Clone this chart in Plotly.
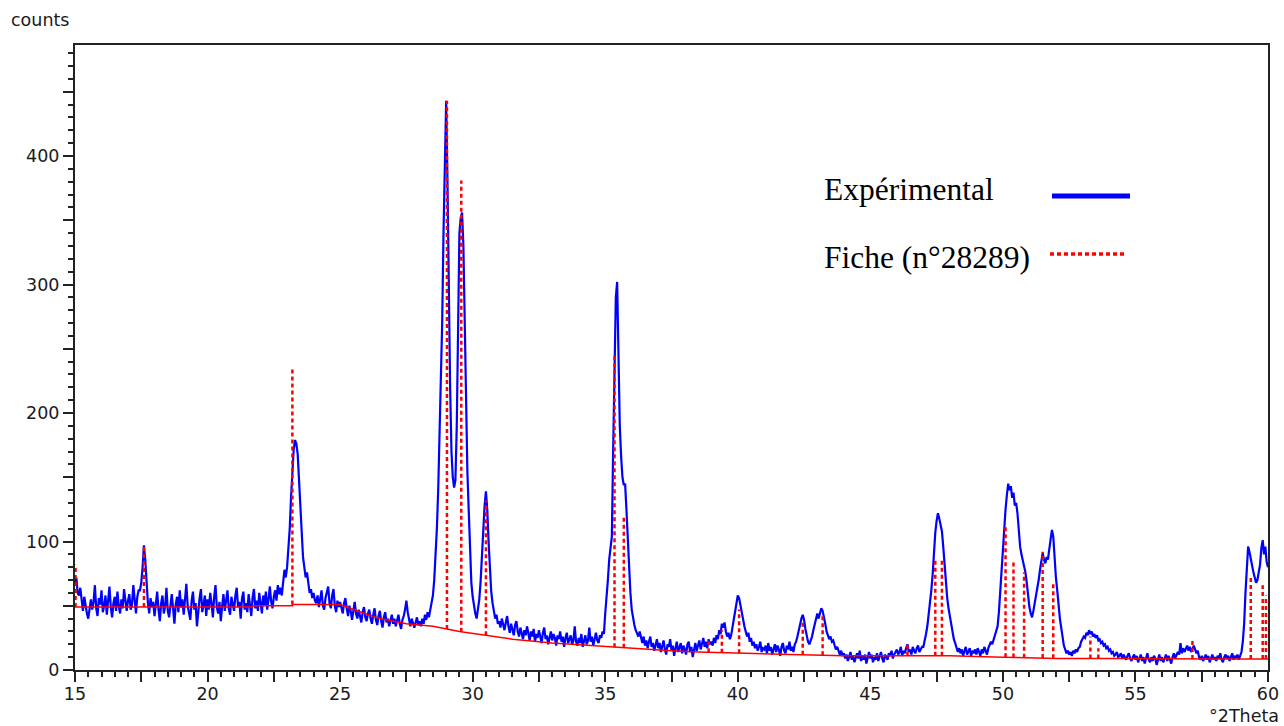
import numpy as np
import plotly.graph_objects as go

# ---------------- data ----------------
two_theta_start = 15.0
two_theta_step = 0.05

counts_15_20 = [
    68, 72, 60, 58, 64, 52, 46, 57, 50, 44, 40, 49, 55, 47, 53, 66, 48, 42, 56, 51,
    62, 45, 50, 58, 43, 54, 65, 49, 41, 52, 57, 46, 61, 50, 44, 55, 48, 63, 52, 46,
    54, 59, 47, 51, 66, 53, 44, 57, 62, 62, 68, 80, 97, 86, 65, 52, 44, 56, 49, 53,
    42, 55, 61, 47, 38, 52, 58, 44, 50, 64, 46, 41, 53, 59, 48, 36, 51, 57, 45, 62,
    49, 55, 43, 58, 67, 50, 44, 39, 54, 61, 47, 52, 34, 48, 56, 63, 45, 51, 58, 42,
]
counts_20_25 = [
    55, 47, 60, 52, 41, 57, 66, 49, 44, 53, 38, 50, 59, 46, 55, 62, 48, 43, 57, 51,
    46, 58, 64, 49, 53, 40, 56, 61, 47, 52, 45, 59, 50, 42, 57, 63, 48, 54, 46, 60,
    52, 44, 58, 50, 61, 47, 55, 65, 53, 48, 57, 62, 54, 66, 59, 64, 58, 70, 78, 72,
    80, 95, 110, 135, 158, 172, 179, 176, 168, 150, 128, 104, 88, 80, 72, 76, 66, 60, 63, 56,
    60, 54, 52, 58, 49, 55, 62, 50, 47, 56, 60, 65, 52, 48, 58, 63, 50, 45, 54, 49,
]
counts_25_30 = [
    53, 47, 44, 52, 56, 48, 42, 50, 46, 39, 48, 53, 44, 40, 47, 42, 37, 45, 49, 41,
    38, 44, 47, 40, 36, 43, 48, 39, 35, 42, 46, 38, 33, 41, 45, 37, 40, 34, 39, 43,
    36, 40, 34, 38, 43, 36, 32, 39, 42, 47, 54, 45, 38, 34, 40, 36, 33, 37, 41, 35,
    38, 34, 40, 36, 43, 39, 45, 41, 48, 52, 58, 70, 88, 110, 140, 180, 225, 270, 340, 400,
    443, 380, 290, 220, 170, 150, 142, 148, 190, 270, 340, 352, 356, 330, 260, 200, 155, 125, 88, 68,
]
counts_30_35 = [
    57, 50, 44, 40, 46, 55, 69, 92, 114, 128, 139, 125, 100, 78, 61, 52, 45, 40, 43, 36,
    38, 33, 40, 35, 31, 37, 42, 34, 29, 36, 32, 27, 35, 38, 30, 26, 33, 29, 24, 31,
    27, 34, 28, 23, 30, 26, 32, 22, 28, 25, 31, 27, 21, 29, 33, 24, 27, 20, 26, 30,
    23, 28, 25, 19, 27, 24, 30, 22, 26, 18, 25, 29, 21, 24, 27, 20, 23, 34, 22, 19,
    25, 21, 28, 18, 24, 27, 20, 23, 33, 22, 26, 19, 24, 29, 23, 21, 27, 25, 30, 28,
]
counts_35_40 = [
    44, 55, 70, 86, 98, 104, 173, 245, 290, 302, 240, 190, 166, 150, 144, 145, 125, 100, 79, 60,
    47, 40, 35, 31, 28, 26, 30, 24, 21, 26, 19, 23, 17, 22, 26, 18, 21, 15, 20, 24,
    17, 21, 14, 19, 23, 16, 12, 20, 18, 24, 15, 19, 11, 17, 22, 14, 18, 21, 13, 19,
    16, 12, 20, 22, 14, 18, 10, 17, 21, 15, 19, 23, 16, 20, 25, 18, 22, 17, 24, 20,
    22, 19, 25, 21, 27, 24, 31, 28, 36, 33, 37, 30, 26, 29, 24, 27, 33, 38, 45, 52,
]
counts_40_45 = [
    58, 56, 50, 44, 38, 34, 30, 26, 29, 22, 25, 19, 22, 17, 20, 15, 18, 22, 14, 17,
    16, 19, 13, 21, 15, 18, 12, 17, 20, 14, 19, 16, 11, 18, 21, 15, 13, 19, 16, 22,
    15, 18, 14, 20, 22, 26, 31, 36, 40, 43, 39, 32, 26, 22, 20, 23, 26, 31, 36, 41,
    44, 40, 45, 48, 46, 42, 36, 30, 27, 24, 26, 22, 23, 19, 16, 18, 14, 12, 15, 11,
    13, 9, 12, 7, 10, 14, 8, 11, 6, 10, 13, 9, 15, 7, 11, 8, 12, 5, 10, 14,
]
counts_45_50 = [
    9, 12, 6, 10, 8, 13, 7, 11, 14, 9, 6, 12, 10, 8, 13, 11, 15, 9, 12, 14,
    16, 12, 14, 18, 11, 15, 13, 17, 20, 14, 16, 12, 18, 15, 13, 17, 19, 14, 16, 18,
    18, 22, 28, 34, 42, 52, 62, 74, 92, 107, 116, 122, 118, 114, 108, 96, 80, 66, 56, 48,
    41, 35, 29, 24, 21, 18, 14, 17, 13, 16, 11, 15, 18, 12, 14, 17, 11, 15, 13, 16,
    12, 17, 14, 11, 16, 13, 18, 15, 12, 17, 19, 22, 20, 24, 27, 30, 34, 45, 62, 80,
]
counts_50_55 = [
    99, 112, 125, 136, 145, 140, 143, 134, 138, 128, 130, 122, 108, 96, 90, 85, 80, 76, 68, 55,
    49, 44, 41, 46, 52, 56, 62, 70, 78, 86, 91, 86, 83, 88, 86, 94, 100, 109, 104, 85,
    72, 62, 50, 40, 33, 25, 19, 16, 13, 15, 12, 14, 11, 15, 13, 16, 14, 17, 18, 22,
    24, 26, 25, 29, 27, 31, 28, 30, 26, 28, 25, 27, 23, 24, 21, 22, 19, 20, 17, 18,
    15, 16, 13, 14, 11, 12, 14, 10, 11, 13, 9, 12, 10, 8, 11, 13, 9, 7, 10, 12,
]
counts_55_60 = [
    8, 11, 6, 9, 12, 7, 10, 5, 9, 13, 8, 6, 10, 7, 11, 9, 4, 8, 12, 7,
    10, 6, 9, 12, 7, 11, 8, 5, 10, 13, 9, 11, 14, 12, 21, 13, 17, 14, 16, 19,
    15, 18, 14, 17, 19, 16, 13, 15, 10, 8, 11, 7, 10, 12, 8, 11, 6, 9, 12, 8,
    10, 7, 11, 9, 13, 8, 6, 10, 12, 9, 11, 7, 10, 13, 8, 11, 9, 12, 8, 12,
    14, 22, 36, 60, 84, 96, 92, 86, 82, 76, 72, 68, 70, 75, 82, 95, 101, 90, 96, 84,
    80,
]

# reference pattern (Fiche n°28289): background line and stick peaks
background_2theta = [15.0, 21.7, 21.7, 23.2, 23.2, 25.0, 25.8, 26.5, 27.5, 28.5, 29.5, 30.5,
                     31.5, 33.0, 34.4, 35.9, 37.5, 38.5, 40.0, 42.0, 44.0, 46.0, 48.0, 50.0,
                     52.0, 54.0, 56.0, 58.0, 60.0]
background_counts = [49, 49, 50, 50, 51, 51, 45, 40, 36, 34, 30, 27,
                     24, 21, 19, 17, 15, 14, 13, 12, 11, 11, 11, 10,
                     9, 9, 8.5, 8.5, 8.5]

stick_2theta = [15.02, 17.6, 23.2, 29.03, 29.57, 30.5, 35.35, 35.7, 38.9, 39.4, 40.05,
                42.45, 43.2, 46.4, 47.45, 47.7, 50.1, 50.4, 50.8, 51.5, 51.9, 53.3, 53.6,
                57.15, 59.35, 59.8, 59.92]
stick_counts = [82, 98, 235, 443, 381, 132, 245, 119, 23, 31, 47,
                37, 44, 20, 87, 87, 113, 84, 76, 92, 68, 26, 17,
                25, 74, 66, 58]

x_tick_values = [15, 17.5, 20, 22.5, 25, 27.5, 30, 32.5, 35, 37.5, 40, 42.5, 45, 47.5, 50, 52.5, 55, 57.5, 60]
x_tick_labels = ["15", "", "20", "", "25", "", "30", "", "35", "", "40", "", "45", "", "50", "", "55", "", "60"]
y_tick_values = [0, 50, 100, 150, 200, 250, 300, 350, 400, 450]
y_tick_labels = ["0", "", "100", "", "200", "", "300", "", "400", ""]

legend_labels = ["Expérimental", "Fiche (n°28289)"]

# ---------------- figure ----------------
counts = (counts_15_20 + counts_20_25 + counts_25_30 + counts_30_35 + counts_35_40
          + counts_40_45 + counts_45_50 + counts_50_55 + counts_55_60)
two_theta = two_theta_start + two_theta_step * np.arange(len(counts))

stick_base = np.interp(stick_2theta, background_2theta, background_counts)
sx, sy = [], []
for p, h, b in zip(stick_2theta, stick_counts, stick_base):
    sx += [p, p, None]
    sy += [b, h, None]

BLUE = "#0000FF"
RED = "#FF0000"

fig = go.Figure()
fig.add_trace(go.Scatter(x=two_theta, y=counts, mode="lines",
                         line=dict(color=BLUE, width=2.2), name=legend_labels[0],
                         hoverinfo="x+y"))
fig.add_trace(go.Scatter(x=background_2theta, y=background_counts, mode="lines",
                         line=dict(color=RED, width=1.5), showlegend=False,
                         hoverinfo="skip"))
fig.add_trace(go.Scatter(x=sx, y=sy, mode="lines",
                         line=dict(color=RED, width=2.5, dash="4px,3px"),
                         name=legend_labels[1]))

L, R, T, B = 75, 16, 45, 56
W, H = 1284, 726
pw, ph = W - L - R, H - T - B

def px(x):
    return (x - L) / pw

def py(y):
    return (H - B - y) / ph

tick_font = dict(family="DejaVu Sans", size=17.5, color="#1a1a1a")
axis_common = dict(showgrid=False, zeroline=False, showline=True, linecolor="#222222",
                   linewidth=2, mirror=True, ticks="outside", tickcolor="#222222",
                   tickwidth=1.5, ticklen=10, tickfont=tick_font, automargin=False)

fig.update_layout(
    width=W, height=H,
    margin=dict(l=L, r=R, t=T, b=B, autoexpand=False),
    paper_bgcolor="white", plot_bgcolor="white",
    showlegend=False,
    xaxis=dict(range=[15, 60], tickmode="array", tickvals=x_tick_values,
               ticktext=x_tick_labels, ticklabelstandoff=-3,
               minor=dict(tickmode="linear", tick0=15, dtick=0.5, ticks="outside",
                          ticklen=5, tickwidth=1.5, tickcolor="#222222"),
               **axis_common),
    yaxis=dict(range=[0, 486.4], tickmode="array", tickvals=y_tick_values,
               ticktext=y_tick_labels,
               minor=dict(tickmode="linear", tick0=0, dtick=10, ticks="outside",
                          ticklen=5, tickwidth=1.5, tickcolor="#222222"),
               **axis_common),
    annotations=[
        dict(text="counts", xref="paper", yref="paper", x=px(9), y=py(20),
             xanchor="left", yanchor="middle", showarrow=False, font=tick_font),
        dict(text="°2Theta", xref="paper", yref="paper", x=px(1281), y=py(716),
             xanchor="right", yanchor="middle", showarrow=False, font=tick_font),
        dict(text=legend_labels[0], xref="paper", yref="paper", x=px(822), y=py(189),
             xanchor="left", yanchor="middle", showarrow=False,
             font=dict(family="Liberation Serif", size=31.5, color="black")),
        dict(text=legend_labels[1], xref="paper", yref="paper", x=px(822), y=py(257),
             xanchor="left", yanchor="middle", showarrow=False,
             font=dict(family="Liberation Serif", size=31.5, color="black")),
    ],
    shapes=[
        dict(type="line", xref="paper", yref="paper", x0=px(1052), x1=px(1130),
             y0=py(196), y1=py(196), line=dict(color=BLUE, width=5)),
        dict(type="line", xref="paper", yref="paper", x0=px(1050), x1=px(1127),
             y0=py(254), y1=py(254), line=dict(color=RED, width=3.5, dash="4px,3px")),
    ],
)

fig.write_html("out.html")
